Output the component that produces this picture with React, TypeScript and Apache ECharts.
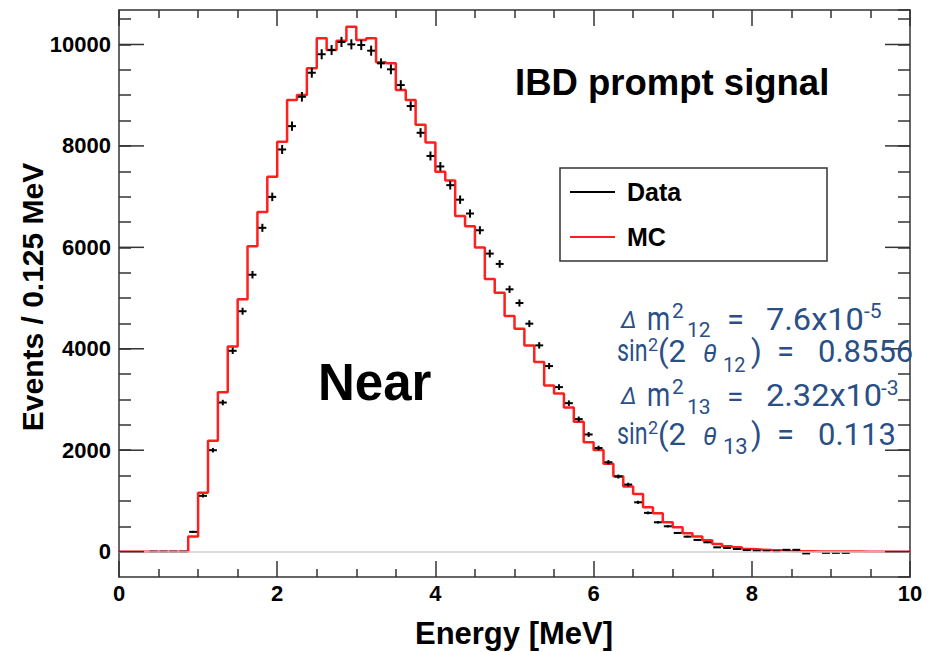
import React, { useEffect, useRef } from "react";
import * as echarts from "echarts";

// ---- data ----
const BIN_WIDTH = 0.125;
const X_MIN = 0;
const X_MAX = 10;
// MC histogram, 80 bins of 0.125 MeV
const MC_VALUES = [
  0, 0, 0, 0, 0, 0, 0, 300, 1160, 2185,
  3145, 4047, 4975, 6022, 6699, 7390, 8081, 8904, 9003, 9530,
  10122, 9891, 10075, 10351, 10088, 10122, 9650, 9630, 9102, 8904,
  8418, 8066, 7489, 7318, 6620, 6417, 5996, 5377, 5104, 4646,
  4397, 4067, 3737, 3277, 3120, 2840, 2560, 2158, 2004, 1731,
  1487, 1283, 1139, 875, 757, 579, 480, 362, 300, 225,
  152, 105, 85, 52, 40, 30, 25, 15, 10, 8,
  5, 3, 2, 1, 1, 0, 0, 0, 0, 0,
];
// Data (background subtracted), null = not drawn
const DATA_VALUES: (number | null)[] = [
  null, null, null, 0, 0, 0, 0, 390, 1100, 2000,
  2940, 3960, 4740, 5460, 6385, 6995, 7930, 8390, 8969, 9443,
  9808, 9891, 10050, 10003, 9990, 9878, 9628, 9510, 9200, 8786,
  8259, 7802, 7595, 7226, 6940, 6667, 6337, 5877, 5673, 5173,
  4903, 4495, 4067, 3659, 3244, 2928, 2613, 2310, 2044, 1763,
  1481, 1323, 973, 764, 579, 500, 369, 296, 231, 184,
  85, 73, 52, 30, 15, 10, 5, 36, 36, -35,
  null, -24, -24, -24, null, null, null, null, null, null,
];
const Y_MAJOR_TICKS = [0, 2000, 4000, 6000, 8000, 10000];
const Y_MIN = -500;
const Y_MAX = 10680;

const TITLE = "IBD prompt signal";
const DETECTOR = "Near";
const X_TITLE = "Energy [MeV]";
const Y_TITLE = "Events / 0.125 MeV";
const LEGEND = ["Data", "MC"];

// ---- styles ----
const FONT = "'Liberation Sans', Arial, Helvetica, sans-serif";
const BLUE = "#2a4f86";
const RED = "#ff1f1f";
const FRAME = "#333333";
const HALF_W = 0.05;

function txt(x: number, baseline: number, text: string, size: number, extra: any = {}) {
  return {
    type: "text",
    x,
    y: baseline - 0.345 * size,
    scaleX: extra.sx || 1,
    style: {
      text,
      fontSize: size,
      fontFamily: extra.family || "Roboto, sans-serif",
      fontStyle: extra.italic ? "italic" : "normal",
      fontWeight: extra.bold ? "bold" : "normal",
      fill: extra.color || BLUE,
      textAlign: extra.align || "left",
      textVerticalAlign: "middle",
      verticalAlign: "middle",
    },
    z: 20,
  };
}

export default function App() {
  const ref = useRef<HTMLDivElement>(null);
  useEffect(() => {
    if (!ref.current) return;
    const chart = echarts.init(ref.current, undefined, { renderer: "svg" });

    const mcLine: number[][] = MC_VALUES.map((v, i) => [X_MIN + i * BIN_WIDTH, v]);
    mcLine.push([X_MAX, MC_VALUES[MC_VALUES.length - 1]]);

    const dataPts: number[][] = [];
    DATA_VALUES.forEach((v, i) => {
      if (v === null) return;
      dataPts.push([X_MIN + (i + 0.5) * BIN_WIDTH, v, Math.sqrt(Math.abs(v))]);
    });

    const tickStyle = { color: FRAME, width: 1.5 };
    const baseX = {
      type: "value",
      min: X_MIN,
      max: X_MAX,
      interval: 2,
      splitLine: { show: false },
      axisLine: { show: true, onZero: false, lineStyle: { color: FRAME, width: 1.5 } },
      axisTick: { show: true, inside: true, length: 16, lineStyle: tickStyle },
      minorTick: { show: true, splitNumber: 4, length: 8, lineStyle: tickStyle },
    };
    const baseY = {
      type: "value",
      min: Y_MIN,
      max: Y_MAX,
      interval: 500,
      splitLine: { show: false },
      axisLine: { show: true, onZero: false, lineStyle: { color: FRAME, width: 1.5 } },
      axisTick: { show: true, inside: true, length: 12, lineStyle: tickStyle },
    };

    const option: any = {
      animation: false,
      backgroundColor: "#ffffff",
      grid: { left: 119, right: 18, top: 10, bottom: 75, containLabel: false },
      xAxis: [
        {
          ...baseX,
          position: "bottom",
          axisLabel: {
            show: true,
            margin: 5,
            fontSize: 22,
            fontWeight: "bold",
            fontFamily: FONT,
            color: "#000",
          },
        },
        { ...baseX, position: "top", axisLabel: { show: false } },
      ],
      yAxis: [
        {
          ...baseY,
          position: "left",
          axisLabel: {
            show: true,
            margin: 8,
            fontSize: 22,
            fontWeight: "bold",
            fontFamily: FONT,
            color: "#000",
            showMinLabel: false,
            showMaxLabel: false,
            formatter: (v: number) => (Y_MAJOR_TICKS.indexOf(v) >= 0 ? String(v) : ""),
          },
        },
        { ...baseY, position: "right", axisLabel: { show: false } },
      ],
      series: [
        {
          name: "zero",
          type: "line",
          data: [],
          silent: true,
          markLine: {
            silent: true,
            symbol: ["none", "none"],
            label: { show: false },
            lineStyle: { color: "#d0d0d0", width: 1.5, type: "solid" },
            data: [{ yAxis: 0 }],
          },
          z: 1,
        },
        {
          name: "MC",
          type: "line",
          step: "end",
          data: mcLine,
          symbol: "none",
          lineStyle: { color: RED, width: 2.5 },
          z: 3,
        },
        {
          name: "Data",
          type: "custom",
          data: dataPts,
          dimensions: ["x", "y", "err"],
          encode: { x: 0, y: 1 },
          z: 4,
          renderItem: (params: any, api: any) => {
            const x = api.value(0);
            const y = api.value(1);
            const e = api.value(2);
            const l = api.coord([x - HALF_W, y]);
            const r = api.coord([x + HALF_W, y]);
            const t = api.coord([x, y + e]);
            const b = api.coord([x, y - e]);
            return {
              type: "group",
              children: [
                { type: "line", shape: { x1: l[0], y1: l[1], x2: r[0], y2: r[1] }, style: { stroke: "#000", lineWidth: 2 } },
                { type: "line", shape: { x1: t[0], y1: t[1], x2: b[0], y2: b[1] }, style: { stroke: "#000", lineWidth: 2 } },
              ],
            };
          },
        },
        {
          name: "majorTicks",
          type: "custom",
          data: Y_MAJOR_TICKS.map((v) => [X_MIN, v]),
          encode: { x: 0, y: 1 },
          clip: false,
          silent: true,
          z: 5,
          renderItem: (params: any, api: any) => {
            const v = api.value(1);
            const p = api.coord([X_MIN, v]);
            const q = api.coord([X_MAX, v]);
            return {
              type: "group",
              children: [
                { type: "line", shape: { x1: p[0], y1: p[1], x2: p[0] + 25, y2: p[1] }, style: { stroke: FRAME, lineWidth: 1.5 } },
                { type: "line", shape: { x1: q[0] - 25, y1: q[1], x2: q[0], y2: q[1] }, style: { stroke: FRAME, lineWidth: 1.5 } },
              ],
            };
          },
        },
      ],
      graphic: [
        // axis titles
        {
          type: "text",
          x: 32,
          y: 297,
          rotation: Math.PI / 2,
          style: {
            text: Y_TITLE,
            fontSize: 30,
            fontWeight: "bold",
            fontFamily: FONT,
            fill: "#000",
            textAlign: "center",
            textVerticalAlign: "middle",
            verticalAlign: "middle",
          },
        },
        {
          type: "text",
          x: 514,
          y: 633,
          style: {
            text: X_TITLE,
            fontSize: 31,
            fontWeight: "bold",
            fontFamily: FONT,
            fill: "#000",
            textAlign: "center",
            textVerticalAlign: "middle",
            verticalAlign: "middle",
          },
        },
        // labels
        txt(515, 95, TITLE, 36.5, { bold: true, family: FONT, color: "#000" }),
        txt(318, 400, DETECTOR, 51, { bold: true, family: FONT, color: "#000" }),
        // legend
        {
          type: "rect",
          shape: { x: 560, y: 168, width: 267, height: 93 },
          style: { fill: "#fff", stroke: FRAME, lineWidth: 1.5 },
          z: 10,
        },
        { type: "line", shape: { x1: 570, y1: 192, x2: 615, y2: 192 }, style: { stroke: "#000", lineWidth: 2 }, z: 11 },
        { type: "line", shape: { x1: 570, y1: 237, x2: 615, y2: 237 }, style: { stroke: RED, lineWidth: 2 }, z: 11 },
        txt(627, 201, LEGEND[0], 25, { bold: true, family: FONT, color: "#000" }),
        txt(627, 246, LEGEND[1], 25, { bold: true, family: FONT, color: "#000" }),
        // oscillation parameters
        txt(621, 328, "Δ", 23, { italic: true }),
        txt(647, 330, "m", 33, { sx: 0.8 }),
        txt(672, 318, "2", 21),
        txt(687, 337, "12", 21),
        txt(727, 330, "=", 31),
        txt(766, 330, "7.6x10", 31, { sx: 1.05 }),
        txt(864, 318, "-5", 21),

        txt(617, 362, "sin", 31, { sx: 0.75 }),
        txt(648, 351, "2", 18),
        txt(658, 362, "(2", 31),
        txt(703, 362, "θ", 25, { italic: true }),
        txt(723, 372, "12", 20),
        txt(751, 362, ")", 31),
        txt(777, 362, "=", 31),
        txt(818, 362, "0.8556", 31),

        txt(621, 404, "Δ", 23, { italic: true }),
        txt(647, 406, "m", 33, { sx: 0.8 }),
        txt(672, 394, "2", 21),
        txt(687, 414, "13", 21),
        txt(727, 407, "=", 30),
        txt(766, 406, "2.32x10", 31, { sx: 1.05 }),
        txt(881, 395, "-3", 21),

        txt(617, 445, "sin", 31, { sx: 0.75 }),
        txt(648, 434, "2", 18),
        txt(658, 445, "(2", 31),
        txt(703, 445, "θ", 25, { italic: true }),
        txt(723, 454, "13", 22),
        txt(751, 445, ")", 31),
        txt(777, 445, "=", 31),
        txt(818, 445, "0.113", 31),
      ],
    };
    chart.setOption(option);
    return () => chart.dispose();
  }, []);
  return (
    <div
      ref={ref}
      style={{ position: "fixed", left: 0, top: 0, width: 928, height: 652, background: "#fff" }}
    />
  );
}
